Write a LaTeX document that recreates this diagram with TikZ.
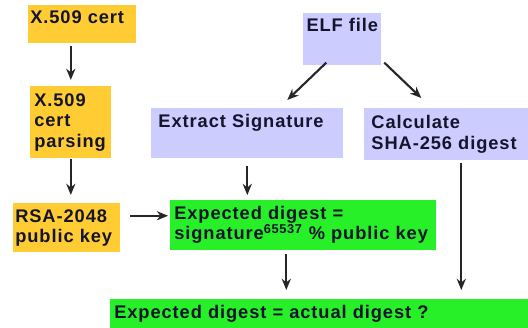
\documentclass[tikz,border=0pt]{standalone}
\usepackage{fontspec}
\newfontfamily\diagfont[LetterSpace=5]{Liberation Sans}
\usetikzlibrary{arrows.meta, positioning}
\definecolor{certyellow}{RGB}{255,204,51}
\definecolor{elfblue}{RGB}{204,204,255}
\definecolor{digestgreen}{RGB}{40,240,40}
\definecolor{textnavy}{RGB}{20,20,45}

\begin{document}
\begin{tikzpicture}[x=0.025cm, y=-0.025cm,
    box/.style={rectangle, anchor=north west, inner xsep=0.05cm, inner ysep=0.15cm, align=left, text=textnavy, font=\diagfont\bfseries\fontsize{13pt}{14.5pt}\selectfont},
    cert/.style={box, fill=certyellow},
    elf/.style={box, inner xsep=0.18cm, fill=elfblue},
    digest/.style={box, inner xsep=0.1cm, fill=digestgreen},
    line/.style={draw, -{Stealth[length=8pt, width=6.5pt]}, line width=1.5pt, black!85}]

    \useasboundingbox (0,0) rectangle (528,328);

    \node [cert, text width=2.6cm, text height=9pt, text depth=9.5pt] (x509) at (28,5) {X.509 cert};
    \node [cert, inner xsep=0.1cm, text width=1.825cm, minimum height=1.8cm] (parse) at (30,86) {X.509\\cert\\parsing};
    \node [cert, text width=2.575cm, minimum height=1.175cm] (rsa) at (13,203) {RSA-2048\\public key};
    \node [elf, inner xsep=0pt, minimum width=1.95cm, text height=9pt, text depth=19.5pt] (elffile) at (303,13) {ELF file};
    \node [elf, text width=4.44cm, text height=9.5pt, text depth=17.5pt] (extract) at (151,108) {Extract Signature};
    \node [elf, text width=3.74cm, minimum height=1.3cm] (calc) at (364,108) {Calculate\\SHA-256 digest};
    \node [digest, text width=6.45cm, minimum height=1.225cm] (expect) at (170,200) {Expected digest =\\signature\textsuperscript{65537} \% public key};
    \node [digest, text width=10.25cm, minimum height=0.725cm] (check) at (110,299) {Expected digest = actual digest ?};

    \path [line, shorten <=1.4pt, shorten >=4.3pt] (x509.south -| parse.north) -- (parse.north);
    \path [line, shorten >=5.7pt] (parse.south) -- (parse.south |- rsa.north);
    \path [line, shorten <=7pt, shorten >=1.4pt] ([yshift=0.3cm]rsa.east) -- ([yshift=0.3cm]rsa.east -| expect.west);
    \path [line] ([shift={(-0.4cm,0.075cm)}]elffile.south) -- ([shift={(1cm,0.2cm)}]extract.north);
    \path [line] ([shift={(1.05cm,0.075cm)}]elffile.south) -- ([shift={(-0.625cm,0.25cm)}]calc.north);
    \path [line, shorten <=5pt, shorten >=3.5pt] (extract.south) -- (extract.south |- expect.north);
    \path [line, shorten <=3pt, shorten >=6.4pt] ([xshift=-0.425cm]expect.south) -- ([xshift=-0.425cm]expect.south |- check.north);
    \path [line, shorten <=1.4pt, shorten >=6.4pt] ([xshift=0.375cm]calc.south) -- ([xshift=0.375cm]calc.south |- check.north);
\end{tikzpicture}
\end{document}
